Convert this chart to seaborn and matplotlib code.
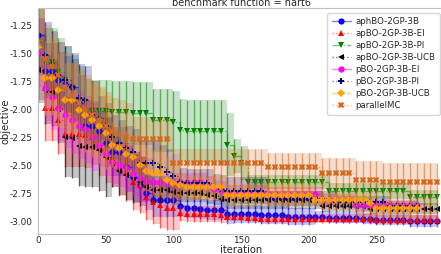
import numpy as np
import matplotlib
matplotlib.use("Agg")
import matplotlib.pyplot as plt
import seaborn as sns
from matplotlib.colors import to_rgba

# best-so-far objective, one value every 5 iterations
iterations = np.arange(0, 300, 5)

aphbo_mean = [-1.34, -1.66, -1.66, -1.74, -1.78, -1.80, -1.95, -2.15, -2.15, -2.20,
              -2.30, -2.38, -2.38, -2.52, -2.61, -2.68, -2.75, -2.81, -2.81, -2.81,
              -2.81, -2.87, -2.88, -2.88, -2.89, -2.90, -2.90, -2.90, -2.94, -2.94,
              -2.94, -2.94, -2.94, -2.95, -2.95, -2.95, -2.95, -2.96, -2.96, -2.96,
              -2.96, -2.96, -2.96, -2.97, -2.97, -2.97, -2.97, -2.97, -2.98, -2.98,
              -2.99, -2.99, -2.99, -2.99, -2.99, -3.00, -3.00, -3.00, -3.00, -3.00]
aphbo_err = [0.15, 0.25, 0.25, 0.25, 0.25, 0.25, 0.25, 0.22, 0.22, 0.22,
             0.22, 0.22, 0.22, 0.22, 0.22, 0.15, 0.15, 0.15, 0.15, 0.15,
             0.15, 0.09, 0.09, 0.09, 0.09, 0.09, 0.09, 0.09, 0.09, 0.08,
             0.08, 0.08, 0.08, 0.08, 0.08, 0.08, 0.08, 0.08, 0.08, 0.08,
             0.08, 0.05, 0.05, 0.05, 0.05, 0.05, 0.05, 0.05, 0.05, 0.05,
             0.05, 0.05, 0.05, 0.05, 0.05, 0.05, 0.05, 0.05, 0.05, 0.05]

apbo_ei_mean = [-1.62, -1.99, -1.99, -2.10, -2.22, -2.22, -2.22, -2.23, -2.25, -2.35,
                -2.41, -2.45, -2.53, -2.57, -2.65, -2.68, -2.79, -2.83, -2.86, -2.88,
                -2.88, -2.93, -2.94, -2.94, -2.94, -2.94, -2.94, -2.95, -2.96, -2.96,
                -2.96, -2.97, -2.97, -2.98, -2.98, -2.98, -2.98, -2.98, -2.98, -2.98,
                -2.98, -2.98, -2.98, -2.98, -2.98, -2.98, -2.98, -2.98, -2.98, -2.98,
                -2.99, -2.99, -2.99, -2.99, -2.99, -2.99, -2.99, -2.99, -2.99, -2.99]
apbo_ei_err = [0.30, 0.30, 0.30, 0.30, 0.30, 0.30, 0.30, 0.30, 0.25, 0.25,
               0.25, 0.25, 0.25, 0.25, 0.25, 0.25, 0.20, 0.20, 0.20, 0.20,
               0.20, 0.07, 0.07, 0.07, 0.07, 0.07, 0.07, 0.07, 0.04, 0.04,
               0.04, 0.04, 0.04, 0.04, 0.04, 0.04, 0.04, 0.04, 0.04, 0.04,
               0.04, 0.04, 0.04, 0.04, 0.04, 0.04, 0.04, 0.04, 0.04, 0.04,
               0.04, 0.04, 0.04, 0.04, 0.04, 0.04, 0.04, 0.04, 0.04, 0.04]

apbo_pi_mean = [-1.40, -1.58, -1.58, -1.67, -1.74, -1.82, -1.92, -2.01, -2.02, -2.02,
                -2.02, -2.03, -2.03, -2.03, -2.04, -2.04, -2.04, -2.10, -2.10, -2.10,
                -2.12, -2.19, -2.20, -2.20, -2.20, -2.20, -2.20, -2.20, -2.32, -2.42,
                -2.48, -2.65, -2.65, -2.65, -2.65, -2.65, -2.65, -2.65, -2.65, -2.65,
                -2.65, -2.65, -2.65, -2.73, -2.73, -2.73, -2.73, -2.73, -2.73, -2.73,
                -2.73, -2.73, -2.73, -2.73, -2.73, -2.79, -2.79, -2.79, -2.79, -2.79]
apbo_pi_err = [0.30, 0.30, 0.30, 0.30, 0.30, 0.30, 0.30, 0.28, 0.28, 0.28,
               0.28, 0.28, 0.28, 0.28, 0.28, 0.28, 0.28, 0.28, 0.28, 0.28,
               0.28, 0.28, 0.28, 0.28, 0.28, 0.28, 0.28, 0.28, 0.28, 0.15,
               0.15, 0.06, 0.06, 0.06, 0.06, 0.06, 0.06, 0.06, 0.06, 0.06,
               0.06, 0.06, 0.06, 0.07, 0.07, 0.07, 0.07, 0.07, 0.07, 0.07,
               0.07, 0.07, 0.07, 0.07, 0.07, 0.07, 0.07, 0.07, 0.07, 0.07]

apbo_ucb_mean = [-1.65, -1.83, -1.85, -2.00, -2.25, -2.26, -2.33, -2.34, -2.34, -2.37,
                 -2.43, -2.48, -2.55, -2.59, -2.62, -2.65, -2.70, -2.72, -2.72, -2.72,
                 -2.74, -2.75, -2.75, -2.75, -2.75, -2.77, -2.78, -2.80, -2.81, -2.81,
                 -2.81, -2.81, -2.81, -2.81, -2.81, -2.81, -2.81, -2.81, -2.81, -2.81,
                 -2.81, -2.81, -2.87, -2.87, -2.87, -2.87, -2.87, -2.87, -2.87, -2.89,
                 -2.89, -2.89, -2.89, -2.89, -2.89, -2.89, -2.89, -2.89, -2.89, -2.89]
apbo_ucb_err = [0.30, 0.30, 0.30, 0.30, 0.36, 0.36, 0.36, 0.36, 0.36, 0.36,
                0.36, 0.22, 0.22, 0.22, 0.22, 0.22, 0.12, 0.12, 0.12, 0.12,
                0.12, 0.08, 0.08, 0.08, 0.08, 0.08, 0.08, 0.08, 0.08, 0.08,
                0.08, 0.08, 0.08, 0.08, 0.08, 0.08, 0.08, 0.08, 0.08, 0.08,
                0.08, 0.08, 0.05, 0.05, 0.05, 0.05, 0.05, 0.05, 0.05, 0.05,
                0.05, 0.05, 0.05, 0.05, 0.05, 0.05, 0.05, 0.05, 0.05, 0.05]

pbo_ei_mean = [-1.50, -1.81, -1.89, -1.99, -2.05, -2.10, -2.15, -2.18, -2.25, -2.32,
               -2.40, -2.47, -2.50, -2.53, -2.58, -2.62, -2.64, -2.65, -2.65, -2.65,
               -2.65, -2.65, -2.65, -2.65, -2.65, -2.68, -2.71, -2.72, -2.74, -2.74,
               -2.74, -2.74, -2.74, -2.74, -2.76, -2.76, -2.76, -2.76, -2.76, -2.76,
               -2.76, -2.76, -2.81, -2.81, -2.81, -2.81, -2.81, -2.86, -2.86, -2.86,
               -2.86, -2.86, -2.86, -2.86, -2.86, -2.86, -2.86]
pbo_ei_err = [0.30, 0.30, 0.30, 0.30, 0.30, 0.30, 0.30, 0.30, 0.30, 0.20,
              0.20, 0.20, 0.20, 0.20, 0.20, 0.20, 0.20, 0.08, 0.08, 0.08,
              0.08, 0.08, 0.08, 0.08, 0.08, 0.08, 0.08, 0.08, 0.06, 0.06,
              0.06, 0.06, 0.06, 0.06, 0.06, 0.06, 0.06, 0.06, 0.06, 0.06,
              0.06, 0.06, 0.05, 0.05, 0.05, 0.05, 0.05, 0.05, 0.05, 0.05,
              0.05, 0.05, 0.05, 0.05, 0.05, 0.05, 0.05]

pbo_pi_mean = [-1.34, -1.52, -1.60, -1.70, -1.74, -1.80, -1.90, -1.92, -2.05, -2.08,
               -2.15, -2.25, -2.30, -2.35, -2.38, -2.48, -2.48, -2.48, -2.52, -2.56,
               -2.60, -2.65, -2.66, -2.66, -2.66, -2.66, -2.70, -2.71, -2.73, -2.73,
               -2.73, -2.73, -2.73, -2.73, -2.80, -2.80, -2.80, -2.80, -2.80, -2.80,
               -2.80, -2.80, -2.80, -2.80, -2.83, -2.83, -2.83, -2.83, -2.83, -2.83,
               -2.83, -2.83, -2.87, -2.87, -2.87, -2.87, -2.87]
pbo_pi_err = [0.30, 0.30, 0.30, 0.30, 0.30, 0.30, 0.30, 0.30, 0.30, 0.20,
              0.20, 0.20, 0.20, 0.20, 0.20, 0.20, 0.20, 0.20, 0.20, 0.20,
              0.20, 0.12, 0.12, 0.12, 0.12, 0.12, 0.12, 0.12, 0.12, 0.12,
              0.12, 0.12, 0.12, 0.12, 0.07, 0.07, 0.07, 0.07, 0.07, 0.07,
              0.07, 0.07, 0.07, 0.07, 0.05, 0.05, 0.05, 0.05, 0.05, 0.05,
              0.05, 0.05, 0.05, 0.05, 0.05, 0.05, 0.05]

pbo_ucb_mean = [-1.45, -1.72, -1.72, -1.83, -1.92, -1.92, -2.01, -2.05, -2.10, -2.15,
                -2.21, -2.32, -2.35, -2.40, -2.43, -2.50, -2.55, -2.57, -2.57, -2.63,
                -2.66, -2.68, -2.70, -2.70, -2.70, -2.70, -2.70, -2.70, -2.77, -2.77,
                -2.77, -2.77, -2.77, -2.77, -2.77, -2.77, -2.77, -2.77, -2.77, -2.77,
                -2.77, -2.81, -2.81, -2.81, -2.81, -2.81, -2.81, -2.81, -2.81, -2.84,
                -2.88, -2.88, -2.88, -2.88, -2.88, -2.88, -2.88]
pbo_ucb_err = [0.33, 0.33, 0.33, 0.33, 0.33, 0.33, 0.33, 0.33, 0.33, 0.33,
               0.33, 0.20, 0.20, 0.20, 0.20, 0.20, 0.20, 0.20, 0.20, 0.20,
               0.20, 0.10, 0.10, 0.10, 0.10, 0.10, 0.10, 0.10, 0.10, 0.10,
               0.10, 0.10, 0.10, 0.10, 0.10, 0.10, 0.10, 0.10, 0.10, 0.10,
               0.10, 0.06, 0.06, 0.06, 0.06, 0.06, 0.06, 0.06, 0.06, 0.06,
               0.06, 0.06, 0.06, 0.06, 0.06, 0.06, 0.06]

pmc_mean = [-1.40, -1.55, -1.62, -1.70, -1.80, -1.88, -1.95, -2.00, -2.05, -2.10,
            -2.15, -2.20, -2.22, -2.25, -2.27, -2.27, -2.27, -2.27, -2.27, -2.27,
            -2.48, -2.48, -2.48, -2.48, -2.48, -2.48, -2.48, -2.48, -2.48, -2.48,
            -2.48, -2.48, -2.48, -2.48, -2.52, -2.52, -2.52, -2.52, -2.52, -2.52,
            -2.52, -2.52, -2.57, -2.57, -2.57, -2.57, -2.57, -2.63, -2.63, -2.63,
            -2.63, -2.65, -2.65, -2.65, -2.65, -2.65, -2.65, -2.65, -2.65, -2.65]
pmc_err_lo = [0.30, 0.30, 0.30, 0.30, 0.30, 0.30, 0.30, 0.30, 0.30, 0.30,
              0.30, 0.30, 0.30, 0.30, 0.30, 0.30, 0.30, 0.30, 0.30, 0.30,
              0.33, 0.33, 0.33, 0.33, 0.33, 0.33, 0.33, 0.33, 0.33, 0.33,
              0.33, 0.33, 0.33, 0.33, 0.33, 0.33, 0.33, 0.33, 0.33, 0.33,
              0.33, 0.33, 0.33, 0.33, 0.33, 0.33, 0.33, 0.33, 0.33, 0.33,
              0.33, 0.33, 0.33, 0.33, 0.33, 0.33, 0.33, 0.33, 0.33, 0.33]
pmc_err_hi = [0.30, 0.30, 0.30, 0.30, 0.30, 0.30, 0.30, 0.30, 0.30, 0.30,
              0.30, 0.30, 0.30, 0.30, 0.20, 0.20, 0.20, 0.20, 0.20, 0.20,
              0.12, 0.12, 0.12, 0.12, 0.12, 0.12, 0.12, 0.12, 0.12, 0.12,
              0.12, 0.12, 0.12, 0.12, 0.13, 0.13, 0.13, 0.13, 0.13, 0.13,
              0.13, 0.13, 0.13, 0.13, 0.13, 0.13, 0.13, 0.17, 0.17, 0.17,
              0.17, 0.17, 0.17, 0.17, 0.17, 0.17, 0.17, 0.17, 0.17, 0.17]

methods = ["aphBO-2GP-3B", "apBO-2GP-3B-EI", "apBO-2GP-3B-PI", "apBO-2GP-3B-UCB",
           "pBO-2GP-3B-EI", "pBO-2GP-3B-PI", "pBO-2GP-3B-UCB", "parallelMC"]
means = [aphbo_mean, apbo_ei_mean, apbo_pi_mean, apbo_ucb_mean,
         pbo_ei_mean, pbo_pi_mean, pbo_ucb_mean, pmc_mean]
errs_lo = [aphbo_err, apbo_ei_err, apbo_pi_err, apbo_ucb_err,
           pbo_ei_err, pbo_pi_err, pbo_ucb_err, pmc_err_lo]
errs_hi = [aphbo_err, apbo_ei_err, apbo_pi_err, apbo_ucb_err,
           pbo_ei_err, pbo_pi_err, pbo_ucb_err, pmc_err_hi]
colors = ["blue", "red", "green", "black", "magenta", "navy", "orange", "chocolate"]
markers = ["o", "^", "v", "<", "o", "P", "D", "X"]
linestyles = ["-", ":", "-.", ":", "-", ":", "--", ":"]

sns.set_style("white")
plt.rcParams['font.family'] = ['DejaVu Sans']
plt.rcParams['axes.unicode_minus'] = False

fig = plt.figure(figsize=(4.41, 2.54), dpi=100)
ax = fig.add_axes([38 / 441, 20 / 254, 406 / 441, 226 / 254])

for name, m, lo, hi, c, mk, ls in zip(methods, means, errs_lo, errs_hi, colors, markers, linestyles):
    m = np.array(m)
    x = iterations[:len(m)]
    low = m - np.array(lo)
    high = m + np.array(hi)
    ax.fill_between(x, low, high, step="post", color=c, alpha=0.22, lw=0)
    ax.vlines(x, low, high, color=c, alpha=0.55, lw=1)
    sns.lineplot(x=x, y=m, ax=ax, color=to_rgba(c, 0.5), linestyle=ls, lw=1,
                 marker=mk, markersize=4.5, markerfacecolor=c, markeredgecolor=c,
                 markeredgewidth=0, drawstyle="steps-post", label=name)

ax.set_xlim(0, 300)
ax.set_ylim(-3.116, -1.098)
ax.set_xticks([0, 50, 100, 150, 200, 250])
ax.set_yticks([-3.0, -2.75, -2.5, -2.25, -2.0, -1.75, -1.5, -1.25])
ax.set_yticklabels(["-3.00", "-2.75", "-2.50", "-2.25",
                    "-2.00", "-1.75", "-1.50", "-1.25"])
ax.tick_params(labelsize=6.4, colors="0.15", length=0)
ax.tick_params(axis="x", pad=1.5)
ax.tick_params(axis="y", pad=4)
ax.set_xlabel("iteration", fontsize=7.2, labelpad=0)
ax.set_ylabel("objective", fontsize=7.2)
ax.yaxis.set_label_coords(-27.5 / 406, 0.5)
ax.set_title("benchmark function = hart6", fontsize=7, pad=1.5)
for s in ax.spines.values():
    s.set_color("0.75")

leg = ax.legend(loc="upper right", bbox_to_anchor=(402 / 406, 221 / 226), fontsize=6.2,
                handlelength=2.2, borderpad=0.5, labelspacing=0.35, frameon=True,
                borderaxespad=0, handletextpad=0.6)
leg.get_frame().set_edgecolor("0.8")

fig.savefig("out.png", dpi=100)
